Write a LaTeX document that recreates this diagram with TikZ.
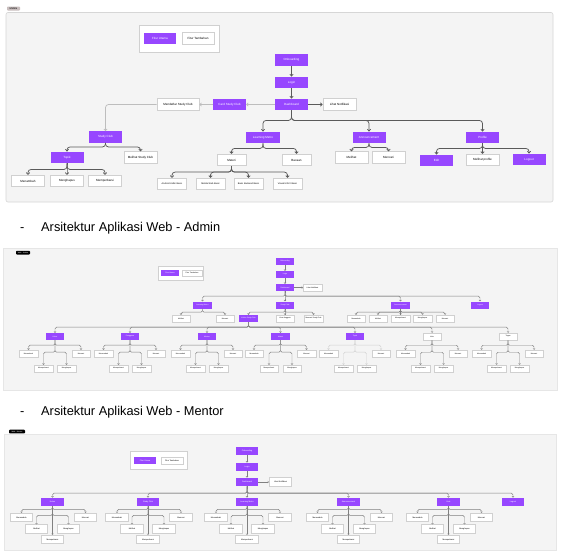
\documentclass[tikz,border=0pt]{standalone}
\usepackage{fontspec}
\setmainfont{Liberation Sans}
\usetikzlibrary{arrows.meta}
\definecolor{fpurple}{HTML}{9747FF}
\definecolor{panelbg}{HTML}{F4F4F4}
\definecolor{panelbd}{HTML}{D6D6D6}
\definecolor{boxbd}{HTML}{D0D0D0}
\definecolor{arr}{HTML}{5A5A5A}
\definecolor{arrlight}{HTML}{BDBDBD}
\definecolor{tagm}{HTML}{C9BEBE}
\begin{document}
\begin{tikzpicture}[x=1pt,y=-1pt,
  mob/.style={minimum width=33pt, minimum height=11.5pt, inner sep=0pt, font=\fontsize{3}{3.6}\selectfont},
  mp/.style={mob, fill=fpurple, text=white},
  mw/.style={mob, fill=white, draw=boxbd, line width=0.7pt},
  adm/.style={minimum width=18.5pt, minimum height=7pt, inner sep=0pt, font=\fontsize{1.8}{2.1}\selectfont},
  ap/.style={adm, fill=fpurple, text=white},
  aw/.style={adm, fill=white, draw=boxbd, line width=0.5pt},
  men/.style={minimum width=22.5pt, minimum height=8.5pt, inner sep=0pt, font=\fontsize{2}{2.4}\selectfont},
  np/.style={men, fill=fpurple, text=white},
  nw/.style={men, fill=white, draw=boxbd, line width=0.55pt},
  marr/.style={draw=arr, line width=0.75pt, -{Straight Barb[length=1.8pt,width=3.4pt]}, rounded corners=3pt},
  larr/.style={draw=arrlight, line width=0.7pt, -{Straight Barb[length=1.6pt,width=3.2pt]}, rounded corners=3pt},
  aarr/.style={draw=#1, line width=0.45pt, -{Straight Barb[length=1pt,width=2pt]}, rounded corners=1.5pt},
  aarr/.default=gray,
  tagbox/.style={inner sep=0pt, rounded corners=0.8pt},
  heading/.style={anchor=base west, inner sep=0pt, font=\fontsize{12.8}{15}\selectfont}
]
\useasboundingbox (0,0) rectangle (562,557);
\fill[white] (0,0) rectangle (562,557);

% ================= MOBILE =================
\filldraw[fill=panelbg, draw=panelbd, line width=0.6pt, rounded corners=2pt] (6,12.5) rectangle (553,202);
\node[tagbox, fill=tagm, minimum width=13pt, minimum height=4pt, font=\fontsize{2.6}{3}\selectfont] (tagmob) at (13.5,8.5) {Mobile};

\node[fill=white, draw=boxbd, line width=0.7pt, minimum width=80pt, minimum height=27pt] (legm) at (179,38.5) {};
\node[mp, minimum width=32pt] (legmu) at (160,38.5) {Fitur Utama};
\node[mw, minimum width=32pt] (legmt) at (198,38.5) {Fitur Tambahan};

\node[mp] (onb) at (291.5,60) {Onboarding};
\node[mp] (login) at (291.5,82.5) {Login};
\node[mp] (dash) at (291.5,104.5) {Dashboard};
\node[mw] (notif) at (339.5,104.5) {Lihat Notifikasi};
\node[mp] (card) at (229.5,104.5) {Card Study Club};
\node[mw, minimum width=42pt] (mend) at (178,104.5) {Mendaftar Study Club};

\node[mp] (sc) at (105.5,137) {Study Club};
\node[mp] (topic) at (67,157.5) {Topik};
\node[mw] (msc) at (140.5,157.5) {Melihat Study Club};
\node[mw] (tadd) at (28,181) {Menambah};
\node[mw] (tdel) at (67,181) {Menghapus};
\node[mw] (tupd) at (105,181) {Memperbarui};

\node[mp, minimum width=34pt] (lm) at (263,137.5) {Learning Metro};
\node[mw, minimum width=29pt] (materi) at (231.5,160) {Materi};
\node[mw, minimum width=29pt] (bacaan) at (296.5,160) {Bacaan};
\node[mw, minimum width=29pt, font=\fontsize{2.3}{2.8}\selectfont] (m1) at (172,184) {Android Kotlin Basic};
\node[mw, minimum width=29pt, font=\fontsize{2.3}{2.8}\selectfont] (m2) at (210.5,184) {Mobile Web Basic};
\node[mw, minimum width=29pt, font=\fontsize{2.3}{2.8}\selectfont] (m3) at (248.5,184) {Basic Backend Basic};
\node[mw, minimum width=29pt, font=\fontsize{2.3}{2.8}\selectfont] (m4) at (287.5,184) {Visual UI/UX Basic};

\node[mp] (ann) at (369,137.5) {Announcement};
\node[mw] (annl) at (351.5,157.5) {Melihat};
\node[mw] (annc) at (388.5,157.5) {Mencari};

\node[mp] (prof) at (482.5,137.5) {Profile};
\node[mp] (edit) at (436.5,160.5) {Edit};
\node[mw] (lprof) at (482.5,160) {Melihat profile};
\node[mp] (logout) at (529,159.5) {Logout};

\draw[marr] (onb) -- (login);
\draw[marr] (login) -- (dash);
\draw[marr] (dash) -- (notif);
\draw[larr] (dash) -- (card);
\draw[larr] (card) -- (mend);
\draw[larr] (mend.west) -| (sc.north);
\foreach \c in {lm,ann,prof} \draw[marr] (dash.south) -- ++(0,10) -| (\c.north);
\foreach \c in {topic,msc} \draw[marr] (sc.south) -- ++(0,4) -| (\c.north);
\foreach \c in {tadd,tdel,tupd} \draw[marr] (topic.south) -- ++(0,6) -| (\c.north);
\foreach \c in {materi,bacaan} \draw[marr] (lm.south) -- ++(0,5) -| (\c.north);
\foreach \c in {m1,m2,m3,m4} \draw[marr] (materi.south) -- ++(0,6) -| (\c.north);
\foreach \c in {annl,annc} \draw[marr] (ann.south) -- ++(0,4) -| (\c.north);
\foreach \c in {edit,lprof,logout} \draw[marr] (prof.south) -- ++(0,5) -| (\c.north);

% ================= HEADINGS =================
\node[heading] (d1) at (20,231.7) {-};
\node[heading] (h1) at (41,231.7) {Arsitektur Aplikasi Web - Admin};
\node[heading] (d2) at (20,415.7) {-};
\node[heading] (h2) at (41,415.7) {Arsitektur Aplikasi Web - Mentor};

% ================= WEB ADMIN =================
\filldraw[fill=panelbg, draw=panelbd!60, line width=0.3pt] (3,248) rectangle (557,390);
\node[tagbox, fill=black, text=white, minimum width=14pt, minimum height=3.6pt, font=\fontsize{1.8}{2}\selectfont] (taga) at (23,252.7) {Web - Admin};

\node[fill=white, draw=boxbd, line width=0.5pt, minimum width=45pt, minimum height=14pt, inner sep=0pt] (lega) at (180.5,273) {};
\node[ap, minimum width=18pt, minimum height=6pt] (legau) at (170,273) {Fitur Utama};
\node[aw, minimum width=20pt, minimum height=6pt] (legat) at (192,273) {Fitur Tambahan};

\node[ap] (aonb) at (285,261.5) {Onboarding};
\node[ap] (alog) at (285,274.5) {Login};
\node[ap] (adash) at (285,287.5) {Dashboard};
\node[aw] (anotif) at (312.5,287.5) {Lihat Notifikasi};
\draw[aarr] (aonb) -- (alog);
\draw[aarr] (alog) -- (adash);
\draw[aarr] (adash) -- (anotif);

\node[ap] (alm) at (202.5,305) {Learning Metro};
\node[ap] (asc) at (285,305) {Study Club};
\node[ap] (aann) at (400.5,305) {Announcement};
\node[ap] (aout) at (480,305) {Logout};
\foreach \c in {alm,asc,aann,aout} \draw[aarr] (adash.south) -- ++(0,5) -| (\c.north);

\node[aw] (alm1) at (181,318.5) {Melihat};
\node[aw] (alm2) at (225,318.5) {Mencari};
\foreach \c in {alm1,alm2} \draw[aarr] (alm.south) -- ++(0,3.5) -| (\c.north);

\node[ap] (aksc) at (248.5,318.5) {Kelola Study Club};
\node[aw] (asc2) at (285,318.5) {Lihat Anggota};
\node[aw] (asc3) at (313.5,318.5) {Mencari Study Club};
\foreach \c in {aksc,asc2,asc3} \draw[aarr] (asc.south) -- ++(0,3.5) -| (\c.north);

\foreach \cx/\lab [count=\i] in {356/Menambah,378/Melihat,400.5/Memperbarui,422.5/Menghapus,445/Mencari}{
  \node[aw] (aan\i) at (\cx,318.5) {\lab};
  \draw[aarr] (aann.south) -- ++(0,3.5) -| (aan\i.north);
}

\foreach \cx/\lab/\sty/\lc [count=\i] in {55/Kelas/ap/gray,130/Pengguna/ap/gray,207/Mentor/ap/gray,280.5/Materi/ap/gray,355/Topik/ap/boxbd,432/Kuis/aw/gray,508/Tugas/aw/gray}{
  \node[\sty] (lv\i) at (\cx,336.5) {\lab};
  \draw[aarr] (aksc.south) -- ++(0,5) -| (lv\i.north);
  \node[aw] (lva\i) at (\cx-26.5,353.5) {Menambah};
  \node[aw] (lvb\i) at (\cx+26,353.5) {Mencari};
  \node[aw] (lvc\i) at (\cx-11.5,368.5) {Memperbarui};
  \node[aw] (lvd\i) at (\cx+11.5,368.5) {Menghapus};
  \draw[aarr=\lc] (lv\i.south) -- ++(0,5) -| (lva\i.north);
  \draw[aarr=\lc] (lv\i.south) -- ++(0,5) -| (lvb\i.north);
  \draw[aarr=\lc] (lv\i.south) -- ++(0,12) -| (lvc\i.north);
  \draw[aarr=\lc] (lv\i.south) -- ++(0,12) -| (lvd\i.north);
}

% ================= WEB MENTOR =================
\filldraw[fill=panelbg, draw=panelbd!60, line width=0.3pt] (4,434) rectangle (556,550);
\node[tagbox, fill=black, text=white, minimum width=16pt, minimum height=3.6pt, font=\fontsize{1.8}{2}\selectfont] (tagn) at (17,431.5) {Web - Mentor};

\node[fill=white, draw=boxbd, line width=0.55pt, minimum width=57pt, minimum height=18pt, inner sep=0pt] (legn) at (158.5,460) {};
\node[np, minimum width=22pt, minimum height=7pt] (legnu) at (145,460.5) {Fitur Utama};
\node[nw, minimum width=22pt, minimum height=7pt] (legnt) at (172,460.5) {Fitur Tambahan};

\node[np] (nonb) at (247,451) {Onboarding};
\node[np] (nlog) at (247,467) {Login};
\node[np] (ndash) at (247,482) {Dashboard};
\node[nw] (nnotif) at (280.5,482) {Lihat Notifikasi};
\draw[aarr] (nonb) -- (nlog);
\draw[aarr] (nlog) -- (ndash);
\draw[aarr] (ndash) -- (nnotif);

\node[np] (nout) at (513,502) {Logout};
\draw[aarr] (ndash.south) -- ++(0,6.75) -| (nout.north);

\foreach \cx/\lab [count=\i] in {52.5/Kelas,148/Study Club,247/Learning Metro,348.5/Announcement,448.5/Kuis}{
  \node[np] (nl\i) at (\cx,502) {\lab};
  \draw[aarr] (ndash.south) -- ++(0,6.75) -| (nl\i.north);
  \node[nw] (nla\i) at (\cx-31,517.5) {Menambah};
  \node[nw] (nlb\i) at (\cx+33,517.5) {Mencari};
  \node[nw] (nlc\i) at (\cx-16,529) {Melihat};
  \node[nw] (nld\i) at (\cx+16,529) {Menghapus};
  \node[nw] (nle\i) at (\cx,539.5) {Memperbarui};
  \draw[aarr] (nl\i.south) -- ++(0,3) -| (nla\i.north);
  \draw[aarr] (nl\i.south) -- ++(0,3) -| (nlb\i.north);
  \draw[aarr] (nl\i.south) -- ++(0,9) -| (nlc\i.north);
  \draw[aarr] (nl\i.south) -- ++(0,9) -| (nld\i.north);
  \draw[aarr] (nl\i.south) -- (nle\i.north);
}
\end{tikzpicture}
\end{document}
